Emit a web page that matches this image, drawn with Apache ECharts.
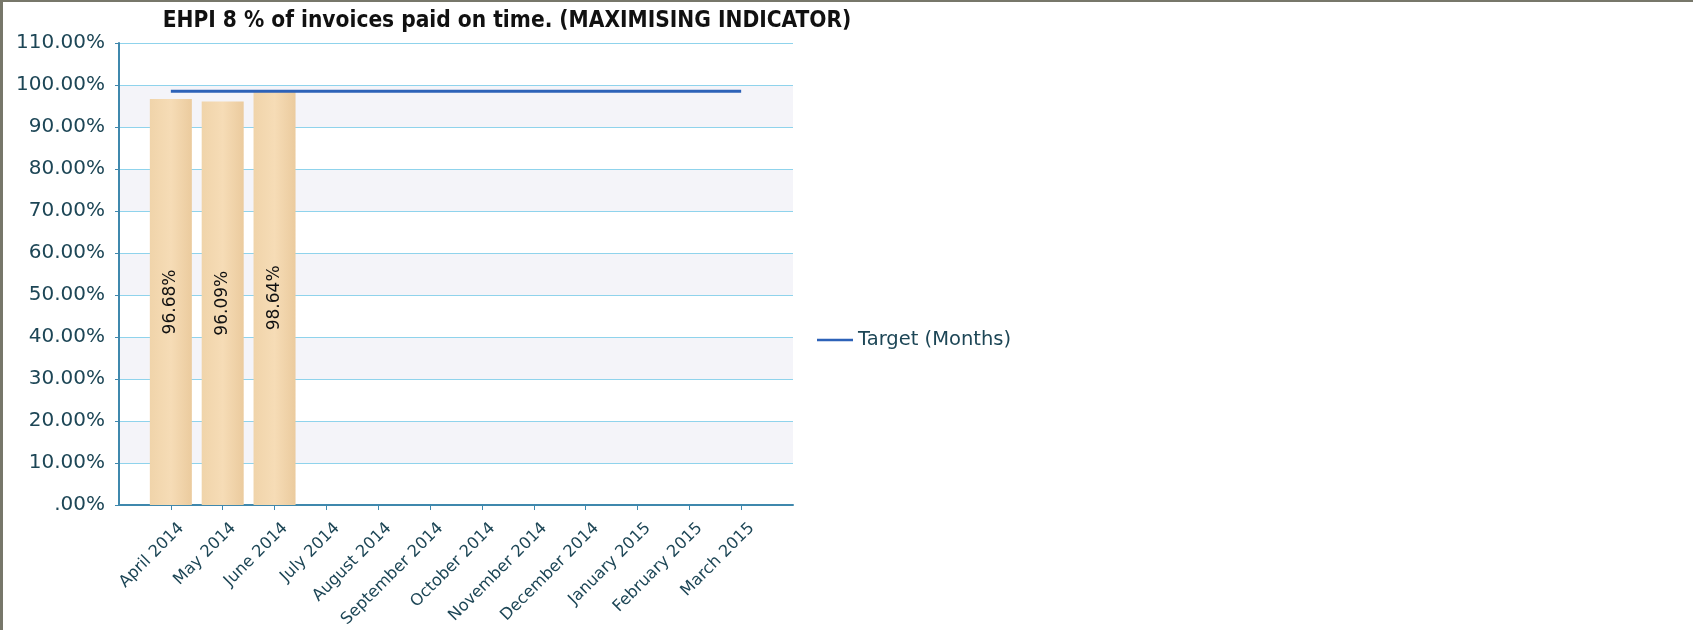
<!DOCTYPE html>
<html>
<head>
<meta charset="utf-8">
<script src="https://cdn.jsdelivr.net/npm/echarts@6/dist/echarts.min.js"></script>
<style>
html,body{margin:0;padding:0;background:#fff;}
#c{position:absolute;left:0;top:0;width:1693px;height:630px;}
#bt{position:absolute;left:0;top:0;width:1693px;height:2px;background:#77776a;}
#bl{position:absolute;left:0;top:0;width:3px;height:630px;background:#77776a;}
</style>
</head>
<body>
<div id="c"></div>
<div id="bt"></div>
<div id="bl"></div>
<script>
var categories = ['April 2014','May 2014','June 2014','July 2014','August 2014','September 2014','October 2014','November 2014','December 2014','January 2015','February 2015','March 2015'];
var actualValues = [96.68, 96.09, 98.64];
var targetValues = [98.5, 98.5, 98.5, 98.5, 98.5, 98.5, 98.5, 98.5, 98.5, 98.5, 98.5, 98.5];
var yTicks = [0, 10, 20, 30, 40, 50, 60, 70, 80, 90, 100, 110];
var titleText = 'EHPI 8 % of invoices paid on time. (MAXIMISING INDICATOR)';
var legendName = 'Target (Months)';

var positions = categories.map(function(_, i){ return i + 1; });
var barData = actualValues.map(function(v, i){ return [i + 1, v]; });
var lineData = targetValues.map(function(v, i){ return [i + 1, v]; });

var chart = echarts.init(document.getElementById('c'), null, {renderer:'canvas'});
var txt = '#1d4656';
chart.setOption({
  animation: false,
  backgroundColor: '#ffffff',
  title: {
    text: titleText,
    left: 502, top: 5, textAlign: 'center',
    textStyle: {fontFamily: "'Liberation Sans Narrow','DejaVu Sans Condensed','Liberation Sans',sans-serif", fontWeight: 'bold', fontSize: 22.5, color: '#111'}
  },
  legend: {
    data: [{name: legendName, icon: 'path://M0,0 L40,0 L40,3 L0,3 Z'}],
    left: 812, top: 325,
    itemWidth: 36, itemHeight: 3, itemGap: 6,
    textStyle: {fontFamily: 'DejaVu Sans', fontSize: 19.5, color: txt}
  },
  grid: {left: 119, right: 900, top: 43, bottom: 123, containLabel: false},
  xAxis: {
    type: 'value', min: 0, max: 13, interval: 1,
    axisLine: {show: true, onZero: false, lineStyle: {color: '#3f88ad', width: 2}},
    axisTick: {show: true, customValues: positions, length: 5, lineStyle: {color: '#3f88ad'}},
    splitLine: {show: false},
    axisLabel: {
      customValues: positions, rotate: 45, margin: 10,
      verticalAlign: 'top', padding: [7, 0, 0, 0],
      fontFamily: 'DejaVu Sans', fontSize: 16.3, color: txt,
      formatter: function(v){ return categories[Math.round(v) - 1] || ''; }
    }
  },
  yAxis: {
    type: 'value', min: 0, max: 110, interval: 10,
    axisLine: {show: true, lineStyle: {color: '#3f88ad', width: 2}},
    axisTick: {show: true, length: 4, lineStyle: {color: '#3f88ad'}},
    splitLine: {show: true, lineStyle: {color: '#8fd3ec', width: 1}},
    splitArea: {show: true, areaStyle: {color: ['#ffffff', '#f4f4f9']}},
    axisLabel: {
      margin: 14, fontFamily: 'DejaVu Sans', fontSize: 20, color: txt,
      formatter: function(v){ return v === 0 ? '.00%' : v.toFixed(2) + '%'; }
    }
  },
  series: [
    {
      type: 'bar', name: 'Actual', data: barData, barWidth: 42,
      itemStyle: {color: new echarts.graphic.LinearGradient(0, 0, 1, 0, [
        {offset: 0, color: '#f0d4aa'}, {offset: 0.5, color: '#f6dcb6'}, {offset: 1, color: '#ebcb9e'}
      ])},
      label: {
        show: true, position: 'inside', rotate: 90,
        fontFamily: 'DejaVu Sans', fontSize: 17, color: '#111',
        formatter: function(p){ return p.value[1].toFixed(2) + '%'; }
      }
    },
    {
      type: 'line', name: legendName, data: lineData, symbol: 'none',
      lineStyle: {color: '#2d62b8', width: 3},
      itemStyle: {color: '#2d62b8'}, z: 5
    }
  ]
});
</script>
</body>
</html>
